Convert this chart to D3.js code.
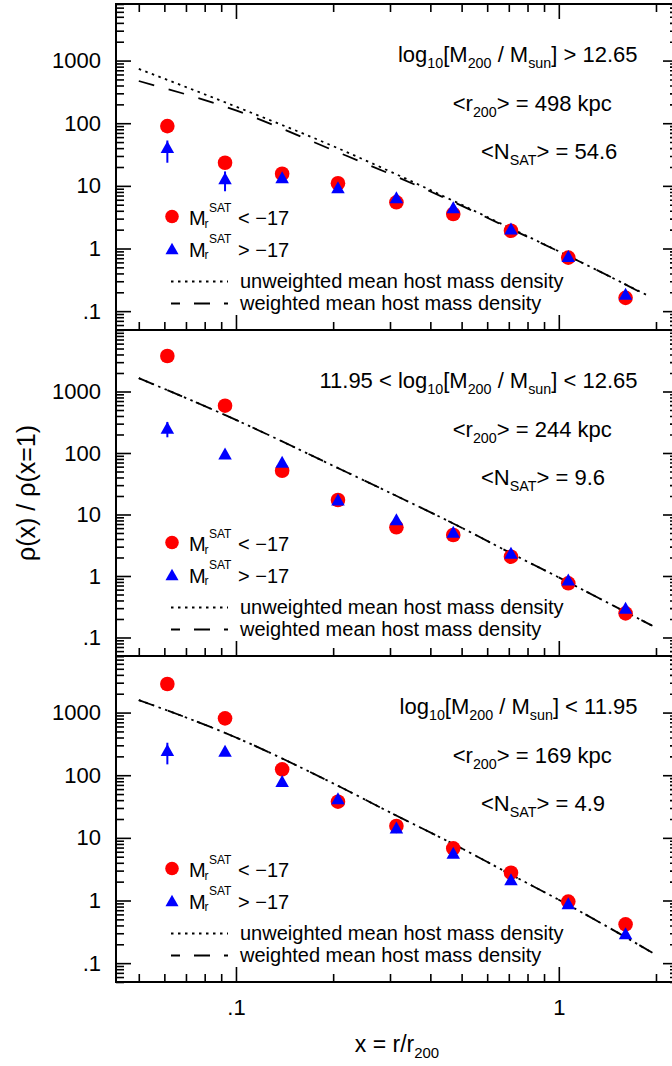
<!DOCTYPE html>
<html><head><meta charset="utf-8">
<script src="https://cdn.jsdelivr.net/npm/d3@7/dist/d3.min.js"></script>
<style>
body{margin:0;background:#fff}
svg{display:block}
text{font-family:"Liberation Sans",Arial,Helvetica,sans-serif;fill:#000}
</style>
</head><body>
<svg id="chart" width="672" height="1066"></svg>
<script>
// ---------- data ----------
const xBins = [0.0613, 0.0925, 0.139, 0.207, 0.314, 0.471, 0.711, 1.07, 1.61];

const brightP1 = [90, 23.4, 15.6, 11.0, 5.46, 3.55, 1.92, 0.714, 0.163];
const faintP1  = [41.7, 13.2, 13.7, 9.5, 6.56, 4.54, 2.09, 0.76, 0.189];
const faintLoP1 = [23.4, 8.2, null, null, null, null, null, null, null];
const faintHiP1 = [53, 17, null, null, null, null, null, null, null];

const brightP2 = [3780, 588, 51.5, 17.2, 6.2, 4.64, 2.06, 0.76, 0.247];
const faintP2  = [258, 98, 72, 17.5, 8.36, 5.25, 2.39, 0.88, 0.305];
const faintLoP2 = [180, null, null, null, null, null, null, null, null];
const faintHiP2 = [320, null, null, null, null, null, null, null, null];

const brightP3 = [2858, 809, 124, 37.8, 15.5, 6.8, 2.78, 0.96, 0.417];
const faintP3  = [252, 246, 80.8, 42.8, 14.7, 5.8, 2.18, 0.90, 0.30];
const faintLoP3 = [149, null, null, null, null, null, null, null, null];
const faintHiP3 = [330, null, null, null, null, null, null, null, null];

const lineXP1 = [0.05, 0.1, 0.2, 0.3, 0.47, 0.71, 1.07, 1.5, 1.9];
const unweightedP1 = [736, 184, 43, 17, 5.8, 2.1, 0.76, 0.32, 0.174];
const weightedP1   = [472, 160, 37, 15.5, 5.6, 2.05, 0.76, 0.32, 0.17];

const lineXP2 = [0.05, 0.1, 0.2, 0.3, 0.5, 0.71, 1.07, 1.61, 1.95];
const unweightedP2 = [1650, 345, 62, 22.5, 6.1, 2.35, 0.79, 0.26, 0.155];
const weightedP2   = [1650, 345, 62, 22.5, 6.1, 2.35, 0.79, 0.26, 0.155];

const lineXP3 = [0.05, 0.1, 0.2, 0.3, 0.5, 0.71, 1.07, 1.61, 1.95];
const unweightedP3 = [1585, 400, 74, 25.5, 6.8, 2.6, 0.85, 0.26, 0.146];
const weightedP3   = [1585, 400, 74, 25.5, 6.8, 2.6, 0.85, 0.26, 0.146];

const yTickValues = [0.1, 1, 10, 100, 1000];
const yTickLabels = [".1", "1", "10", "100", "1000"];
const xTickValues = [0.1, 1];
const xTickLabels = [".1", "1"];

const massPrefix = ["", "11.95 < ", ""];
const massSuffix = ["] > 12.65", "] < 12.65", "] < 11.95"];
const r200kpc = ["498", "244", "169"];
const nSat = ["54.6", "9.6", "4.9"];

const legendBright = "< \u221217";
const legendFaint = "> \u221217";
const legendUnweighted = "unweighted mean host mass density";
const legendWeighted = "weighted mean host mass density";

const xDomain = [0.0425, 2.34];
const yDomains = [[0.05, 8000], [0.05, 10000], [0.05, 8000]];

// ---------- layout ----------
const svg = d3.select("#chart");
const L = 116, R = 678, panelH = 326;
const tops = [4, 330, 656];
const RED = "#ff0000", BLUE = "#0000ff";

const x = d3.scaleLog().domain(xDomain).range([L, R]);

const panels = [
  {bright: brightP1, faint: faintP1, lo: faintLoP1, hi: faintHiP1, lx: lineXP1, un: unweightedP1, w: weightedP1},
  {bright: brightP2, faint: faintP2, lo: faintLoP2, hi: faintHiP2, lx: lineXP2, un: unweightedP2, w: weightedP2},
  {bright: brightP3, faint: faintP3, lo: faintLoP3, hi: faintHiP3, lx: lineXP3, un: unweightedP3, w: weightedP3}
];

function minorTicks(dom) {
  const out = [];
  for (let e = -3; e <= 5; e++) for (let k = 2; k <= 9; k++) {
    const v = k * Math.pow(10, e);
    if (v >= dom[0] * 0.999 && v <= dom[1] * 1.001) out.push(v);
  }
  return out;
}
const xMinor = minorTicks(xDomain);

function styleAxis(g, w) {
  g.select(".domain").remove();
  g.selectAll(".tick line").attr("stroke", "#000").attr("stroke-width", w);
}

function rich(g, xx, yy, anchor, size, parts) {
  const t = g.append("text").attr("x", xx).attr("y", yy)
    .attr("text-anchor", anchor).style("font-size", size + "px");
  let shift = 0;
  parts.forEach(([s, kind]) => {
    const target = kind === "sub" ? Math.round(size * 0.28) : kind === "sup" ? -Math.round(size * 0.45) : 0;
    t.append("tspan").attr("dy", target - shift)
      .style("font-size", (kind === "n" ? size : size * 0.65) + "px").text(s);
    shift = target;
  });
  return t;
}

function triPath(w, h) {
  return `M0,${-h / 2}L${w / 2},${h / 2}L${-w / 2},${h / 2}Z`;
}

panels.forEach((p, i) => {
  const top = tops[i], bot = top + panelH;
  const y = d3.scaleLog().domain(yDomains[i]).range([bot, top]);
  const g = svg.append("g");

  // lines
  const ln = d3.line().x(d => x(d[0])).y(d => y(d[1])).curve(d3.curveMonotoneX);
  g.append("path").datum(p.lx.map((v, j) => [v, p.un[j]]))
    .attr("d", ln).attr("fill", "none").attr("stroke", "#000")
    .attr("stroke-width", 1.8).attr("stroke-dasharray", "2.5,4.5");
  g.append("path").datum(p.lx.map((v, j) => [v, p.w[j]]))
    .attr("d", ln).attr("fill", "none").attr("stroke", "#000")
    .attr("stroke-width", 1.8).attr("stroke-dasharray", "16,15");

  // circles
  g.selectAll(".c").data(xBins.map((v, j) => [v, p.bright[j]])).enter()
    .append("circle").attr("cx", d => x(d[0])).attr("cy", d => y(d[1]))
    .attr("r", 7.3).attr("fill", RED);
  // error bars
  xBins.forEach((v, j) => {
    if (p.lo[j] != null) {
      g.append("line").attr("x1", x(v)).attr("x2", x(v))
        .attr("y1", y(p.lo[j])).attr("y2", y(p.hi[j]))
        .attr("stroke", BLUE).attr("stroke-width", 2);
    }
  });
  // triangles
  g.selectAll(".t").data(xBins.map((v, j) => [v, p.faint[j]])).enter()
    .append("path").attr("d", triPath(13.5, 12))
    .attr("transform", d => `translate(${x(d[0])},${y(d[1])})`)
    .attr("fill", BLUE);

  // frame
  g.append("rect").attr("x", L).attr("y", top).attr("width", R - L).attr("height", panelH)
    .attr("fill", "none").attr("stroke", "#000").attr("stroke-width", 2);

  // y ticks (inward), left and right
  const yMin = minorTicks(yDomains[i]);
  const yMaj = yTickValues.filter(v => v >= yDomains[i][0] && v <= yDomains[i][1]);
  styleAxis(g.append("g").attr("transform", `translate(${L},0)`)
    .call(d3.axisRight(y).tickValues(yMaj).tickSize(15).tickFormat("")), 1.6);
  styleAxis(g.append("g").attr("transform", `translate(${L},0)`)
    .call(d3.axisRight(y).tickValues(yMin).tickSize(8).tickFormat("")), 1.6);
  styleAxis(g.append("g").attr("transform", `translate(${R},0)`)
    .call(d3.axisLeft(y).tickValues(yMaj).tickSize(15).tickFormat("")), 1.6);
  styleAxis(g.append("g").attr("transform", `translate(${R},0)`)
    .call(d3.axisLeft(y).tickValues(yMin).tickSize(8).tickFormat("")), 1.6);
  // y labels
  const yl = g.append("g").attr("transform", `translate(${L},0)`)
    .call(d3.axisLeft(y).tickValues(yTickValues).tickSize(0).tickPadding(15)
      .tickFormat((d, k) => yTickLabels[k]));
  yl.select(".domain").remove();
  yl.selectAll("text").style("font-size", "22px").style("font-family", null).attr("fill", "#000");

  // x ticks at bottom (inward up)
  styleAxis(g.append("g").attr("transform", `translate(0,${bot})`)
    .call(d3.axisTop(x).tickValues(xTickValues).tickSize(15).tickFormat("")), 1.6);
  styleAxis(g.append("g").attr("transform", `translate(0,${bot})`)
    .call(d3.axisTop(x).tickValues(xMinor).tickSize(8).tickFormat("")), 1.6);
  if (i === 0) {
    styleAxis(g.append("g").attr("transform", `translate(0,${top})`)
      .call(d3.axisBottom(x).tickValues(xTickValues).tickSize(15).tickFormat("")), 1.6);
    styleAxis(g.append("g").attr("transform", `translate(0,${top})`)
      .call(d3.axisBottom(x).tickValues(xMinor).tickSize(8).tickFormat("")), 1.6);
  }
  if (i === 2) {
    const xl = g.append("g").attr("transform", `translate(0,${bot})`)
      .call(d3.axisBottom(x).tickValues(xTickValues).tickSize(0).tickPadding(17)
        .tickFormat((d, k) => xTickLabels[k]));
    xl.select(".domain").remove();
    xl.selectAll("text").style("font-size", "22px").style("font-family", null).attr("fill", "#000");
  }

  // annotations
  rich(g, 637.5, top + 58.3, "end", 22, [[massPrefix[i] + "log", "n"], ["10", "sub"], ["[M", "n"],
    ["200", "sub"], [" / M", "n"], ["sun", "sub"], [massSuffix[i], "n"]]);
  rich(g, 452.7, top + 106.5, "start", 22, [["<r", "n"], ["200", "sub"], ["> = " + r200kpc[i] + " kpc", "n"]]);
  rich(g, 481, top + 155.3, "start", 22, [["<N", "n"], ["SAT", "sub"], ["> = " + nSat[i], "n"]]);

  // legend
  const lg = g.append("g");
  lg.append("circle").attr("cx", 172).attr("cy", top + 212.5).attr("r", 6.8).attr("fill", RED);
  lg.append("path").attr("d", triPath(13, 11.5)).attr("transform", `translate(172,${top + 244.5})`).attr("fill", BLUE);
  [[top + 221, legendBright], [top + 252.5, legendFaint]].forEach(([b, s]) => {
    lg.append("text").attr("x", 189).attr("y", b).style("font-size", "20px").text("M");
    lg.append("text").attr("x", 204.5).attr("y", b + 2.5).style("font-size", "12px").text("r");
    lg.append("text").attr("x", 209).attr("y", b - 13.5).style("font-size", "12px").text("SAT");
    lg.append("text").attr("x", 238).attr("y", b).style("font-size", "20px").text(s);
  });
  lg.append("line").attr("x1", 171).attr("x2", 228).attr("y1", top + 277.5).attr("y2", top + 277.5)
    .attr("stroke", "#000").attr("stroke-width", 1.8).attr("stroke-dasharray", "2.5,4.5");
  lg.append("line").attr("x1", 171).attr("x2", 228).attr("y1", top + 299.5).attr("y2", top + 299.5)
    .attr("stroke", "#000").attr("stroke-width", 1.8).attr("stroke-dasharray", "16,14")
    .attr("stroke-dashoffset", 7);
  lg.append("text").attr("x", 240).attr("y", top + 284.3).style("font-size", "20px").text(legendUnweighted);
  lg.append("text").attr("x", 240).attr("y", top + 306.3).style("font-size", "20px").text(legendWeighted);
});

// axis titles
rich(svg, 397, 1051.7, "middle", 23, [["x = r/r", "n"], ["200", "sub"]]);
svg.append("text").attr("transform", "translate(35,493) rotate(-90)")
  .attr("text-anchor", "middle").style("font-size", "25px").text("\u03c1(x) / \u03c1(x=1)");
</script>
</body></html>
